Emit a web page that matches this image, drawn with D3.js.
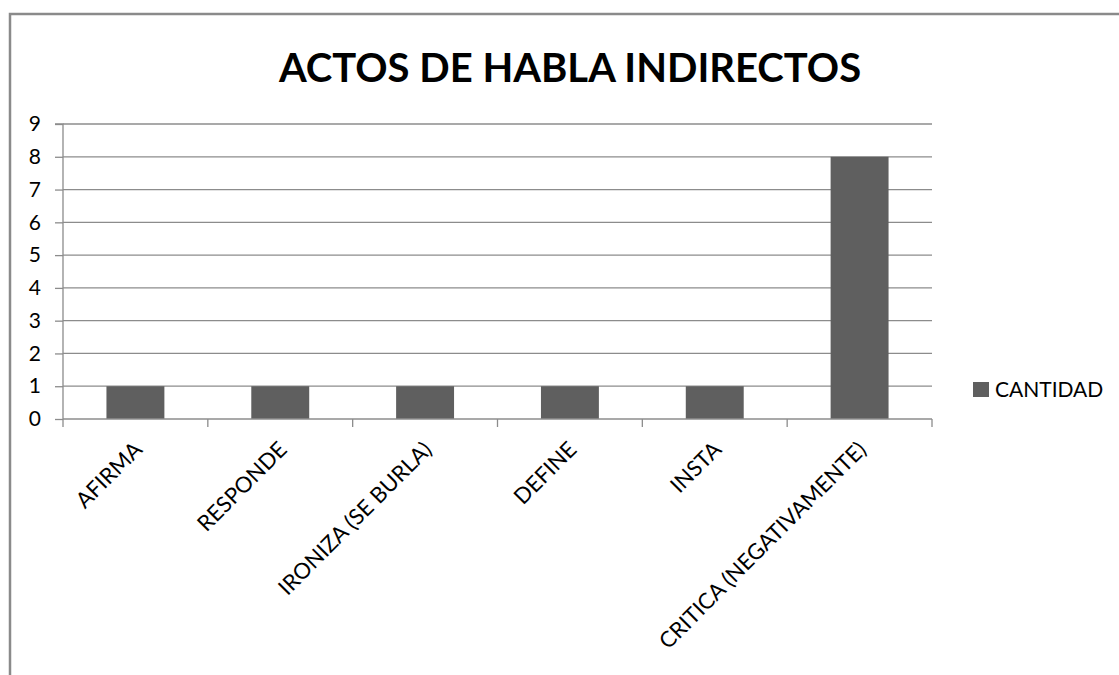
<!DOCTYPE html>
<html>
<head>
<meta charset="utf-8">
<script src="https://cdn.jsdelivr.net/npm/d3@7"></script>
<style>
  body { margin: 0; background: #fff; }
  text { font-family: Lato, "Open Sans", sans-serif; fill: #000; }
</style>
</head>
<body>
<div id="chart"></div>
<script>
const categories = ['AFIRMA', 'RESPONDE', 'IRONIZA (SE BURLA)', 'DEFINE', 'INSTA', 'CRITICA (NEGATIVAMENTE)'];
const cantidad = [1, 1, 1, 1, 1, 8];
const yTicks = [0, 1, 2, 3, 4, 5, 6, 7, 8, 9];
const seriesName = 'CANTIDAD';
const title = 'ACTOS DE HABLA INDIRECTOS';

const w = 1119;
const h = 675;
const plotLeft = 63, plotRight = 932, plotTop = 124, plotBottom = 419;
const barColor = '#5f5f5f';
const gridColor = '#8c8c8c';

const svg = d3.select('#chart')
              .append('svg')
              .attr('width', w)
              .attr('height', h);

// outer frame
svg.append('rect')
   .attr('x', 10).attr('y', 14)
   .attr('width', w + 20).attr('height', h + 20)
   .attr('fill', 'none')
   .attr('stroke', '#8a8a8a')
   .attr('stroke-width', 2.5);

// title
svg.append('text')
   .attr('x', 570)
   .attr('y', 82)
   .attr('text-anchor', 'middle')
   .style('font-size', '40px')
   .style('font-weight', 'bold')
   .text(title);

const xScale = d3.scaleBand()
                 .domain(categories)
                 .range([plotLeft, plotRight])
                 .paddingInner(0.6)
                 .paddingOuter(0.3);

const yScale = d3.scaleLinear()
                 .domain([0, 9])
                 .range([plotBottom, plotTop]);

// gridlines
svg.append('g')
   .selectAll('line')
   .data(yTicks.slice(1))
   .enter()
   .append('line')
   .attr('x1', plotLeft).attr('x2', plotRight)
   .attr('y1', d => yScale(d)).attr('y2', d => yScale(d))
   .attr('stroke', gridColor)
   .attr('stroke-width', 1.3);

// bars
svg.append('g')
   .selectAll('rect')
   .data(cantidad)
   .enter()
   .append('rect')
   .attr('x', (d, i) => xScale(categories[i]))
   .attr('y', d => yScale(d))
   .attr('width', xScale.bandwidth())
   .attr('height', d => yScale(0) - yScale(d))
   .attr('fill', barColor);

// y axis
const yAxis = d3.axisLeft(yScale).tickValues(yTicks).tickSize(8).tickPadding(14);
const yG = svg.append('g')
   .attr('transform', `translate(${plotLeft}, 0)`)
   .call(yAxis);
yG.select('.domain').attr('stroke', gridColor).attr('stroke-width', 1.3)
  .attr('d', `M-8,${plotTop}H0V${plotBottom}`);
yG.selectAll('.tick line').attr('stroke', gridColor).attr('stroke-width', 1.3);
yG.selectAll('.tick text')
  .style('font-size', '21px')
  .style('font-family', 'Lato, "Open Sans", sans-serif')
  .attr('fill', '#000');

// x axis: ticks at band boundaries
const step = (plotRight - plotLeft) / categories.length;
const boundaries = d3.range(categories.length + 1).map(i => plotLeft + i * step);
const xG = svg.append('g');
xG.append('line')
  .attr('x1', plotLeft).attr('x2', plotRight)
  .attr('y1', plotBottom).attr('y2', plotBottom)
  .attr('stroke', gridColor).attr('stroke-width', 1.5);
xG.selectAll('.xt')
  .data(boundaries)
  .enter()
  .append('line')
  .attr('x1', d => d).attr('x2', d => d)
  .attr('y1', plotBottom).attr('y2', plotBottom + 8)
  .attr('stroke', gridColor).attr('stroke-width', 1.3);

xG.selectAll('.xl')
  .data(categories)
  .enter()
  .append('text')
  .attr('text-anchor', 'end')
  .attr('transform', d => {
    const cx = xScale(d) + xScale.bandwidth() / 2 + 8;
    return `translate(${cx}, ${plotBottom + 32}) rotate(-45)`;
  })
  .style('font-size', '22px')
  .text(d => d);

// legend
svg.append('rect')
   .attr('x', 973).attr('y', 382)
   .attr('width', 16).attr('height', 15)
   .attr('fill', barColor);
svg.append('text')
   .attr('x', 995)
   .attr('y', 397)
   .style('font-size', '21px')
   .text(seriesName);
</script>
</body>
</html>
